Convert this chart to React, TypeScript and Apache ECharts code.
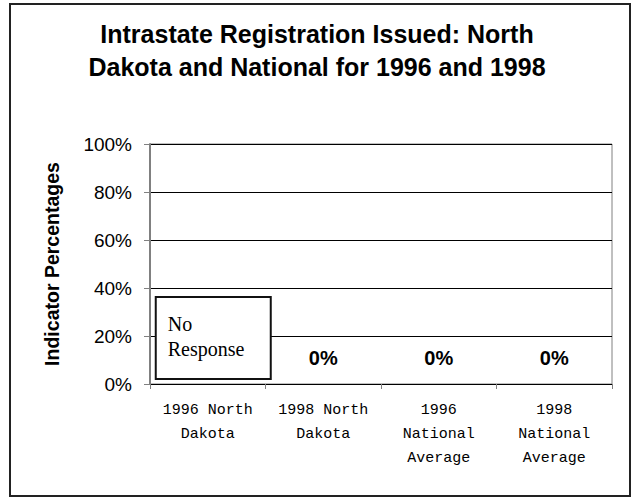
import React, { useEffect, useRef } from "react";
import * as echarts from "echarts";

const titleLines = ["Intrastate Registration Issued: North", "Dakota and National for 1996 and 1998"];
const categories = ["1996 North\nDakota", "1998 North\nDakota", "1996\nNational\nAverage", "1998\nNational\nAverage"];
const values = [0, 0, 0, 0];
const responded = [false, true, true, true];
const yTicks = [0, 20, 40, 60, 80, 100];
const yAxisName = "Indicator Percentages";
const noResponseText = "No\nResponse";

export default function App() {
  const ref = useRef<HTMLDivElement>(null);
  useEffect(() => {
    if (!ref.current) return;
    const chart = echarts.init(ref.current, null, { renderer: "svg" });
    const data = values.map((v, i) =>
      responded[i]
        ? { value: v }
        : {
            value: v,
            label: {
              show: true,
              position: "top",
              distance: 6,
              offset: [5.5, 0],
              formatter: noResponseText
                .split("\n")
                .map((s) => "{nr|" + s + "}")
                .join("\n"),
              backgroundColor: "#fff",
              borderColor: "#111",
              borderWidth: 2,
              padding: [13, 12, 17, 11],
              rich: {
                nr: {
                  fontFamily: "Liberation Serif, serif",
                  fontSize: 20,
                  fontWeight: "normal",
                  lineHeight: 25,
                  width: 90,
                  align: "left",
                  color: "#000",
                },
              },
            },
          }
    );
    chart.setOption({
      animation: false,
      backgroundColor: "#fff",
      textStyle: { fontFamily: "Liberation Sans, Arial, sans-serif" },
      graphic: [
        {
          type: "rect",
          shape: { x: 10, y: 4, width: 620, height: 492 },
          style: { fill: "none", stroke: "#222", lineWidth: 2 },
          silent: true,
        },
        {
          type: "text",
          x: 317,
          y: 17,
          style: {
            text: titleLines.join("\n"),
            fontFamily: "Liberation Sans, Arial, sans-serif",
            fontWeight: "bold",
            fontSize: 25,
            lineHeight: 33,
            align: "center",
            verticalAlign: "top",
            fill: "#000",
          },
        },
      ],
      grid: {
        left: 150,
        right: 20,
        top: 144,
        bottom: 114,
        show: true,
        borderColor: "#808080",
        borderWidth: 1,
      },
      xAxis: {
        type: "category",
        data: categories,
        boundaryGap: true,
        axisLine: { show: true, lineStyle: { color: "#000", width: 1 } },
        axisTick: { show: true, length: 5, lineStyle: { color: "#808080" } },
        axisLabel: {
          fontFamily: "Liberation Mono, monospace",
          fontSize: 15,
          lineHeight: 24,
          color: "#000",
          margin: 14,
          interval: 0,
        },
      },
      yAxis: {
        type: "value",
        min: yTicks[0],
        max: yTicks[yTicks.length - 1],
        interval: yTicks[1] - yTicks[0],
        name: yAxisName,
        nameLocation: "middle",
        nameGap: 88,
        nameTextStyle: {
          fontFamily: "Liberation Sans, Arial, sans-serif",
          fontWeight: "bold",
          fontSize: 19.5,
          color: "#000",
        },
        axisLine: { show: true, lineStyle: { color: "#808080", width: 2 } },
        axisTick: { show: true, length: 6, lineStyle: { color: "#808080" } },
        axisLabel: {
          formatter: "{value}%",
          fontFamily: "Liberation Sans, Arial, sans-serif",
          fontSize: 19,
          color: "#000",
          margin: 18,
        },
        splitLine: { show: true, lineStyle: { color: "#000", width: 1 } },
      },
      series: [
        {
          type: "bar",
          data,
          barWidth: "50%",
          itemStyle: { color: "#000" },
          label: {
            show: true,
            position: "top",
            distance: 16,
            formatter: (p: any) => p.value + "%",
            fontFamily: "Liberation Sans, Arial, sans-serif",
            fontWeight: "bold",
            fontSize: 20,
            color: "#000",
          },
        },
      ],
    });
    return () => chart.dispose();
  }, []);
  return (
    <div
      ref={ref}
      style={{ position: "absolute", left: 0, top: 0, width: 632, height: 498 }}
    />
  );
}
